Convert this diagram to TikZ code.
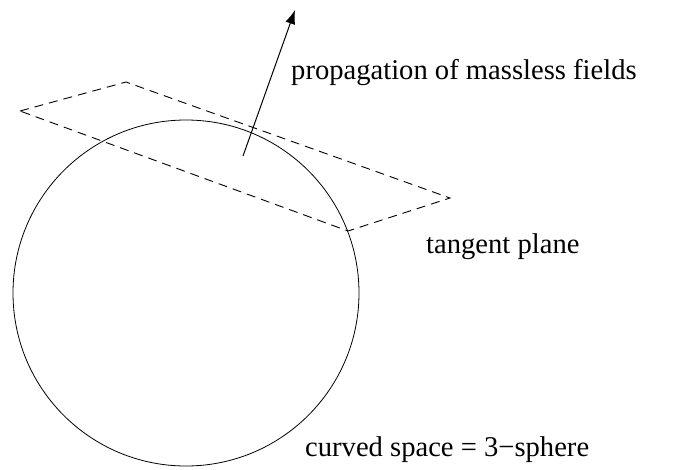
\documentclass[tikz,border=0pt]{standalone}
\usepackage{fontspec}
\setmainfont{Liberation Serif}
\usetikzlibrary{arrows.meta,positioning}

\begin{document}
\begin{tikzpicture}[x=1pt,y=-1pt,
  lbl/.style={anchor=base west,inner sep=0pt,font=\fontsize{28.6}{34}\selectfont},
  plane/.style={dashed,dash pattern=on 9pt off 6pt,line width=0.9pt}]
\useasboundingbox (0,0) rectangle (699,469);
% sphere
\node[draw,circle,minimum size=346pt,inner sep=0pt,line width=0.8pt] (sphere) at (186,293) {};
% tangent plane
\coordinate (pl) at (20,111);
\coordinate (pt) at (126,82);
\coordinate (pr) at (450,198);
\coordinate (pb) at (348,231);
\draw[plane] (pl) -- (pt) -- (pr) -- (pb) -- cycle;
% propagation direction
\coordinate (arrfoot) at (243,156);
\coordinate (arrtip) at (295,10);
\draw[-{Latex[length=14pt,width=10pt]},line width=1pt] (arrfoot) -- (arrtip);
\node[lbl] (prop) at (291,79) {propagation of massless fields};
\node[lbl] (tang) at (426,253) {tangent plane};
\node[lbl] (curv) at (305,456) {curved space = 3−sphere};
\end{tikzpicture}
\end{document}
